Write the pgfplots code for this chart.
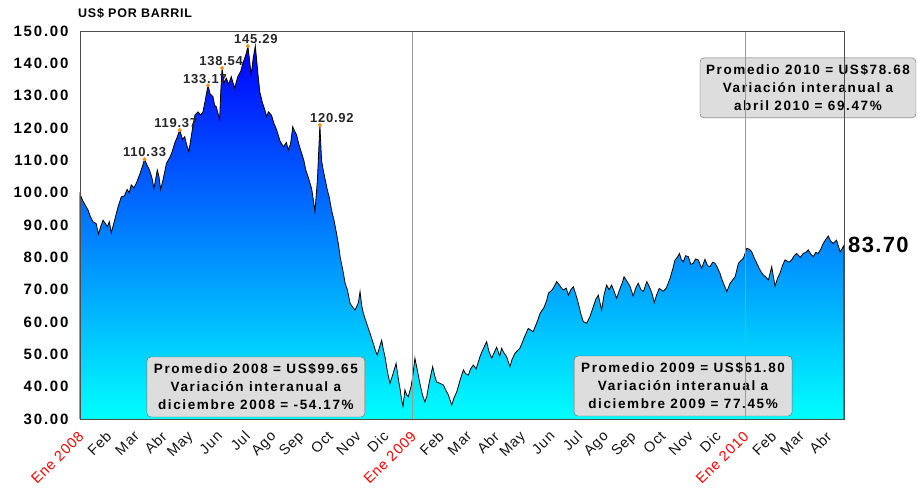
\documentclass[border=0pt]{standalone}
\usepackage{pgfplots}
\pgfplotsset{compat=1.18}
\usepackage{pgfplotstable}
\usepackage{graphicx}
\usepackage{fontspec}
\setmainfont{Liberation Sans}
\newfontfamily\widefont{Liberation Sans}[LetterSpace=6]
\newfontfamily\widerfont{Liberation Sans}[LetterSpace=12]

\definecolor{boxgray}{RGB}{221,221,221}
\definecolor{peak}{RGB}{255,140,20}
\definecolor{topblue}{RGB}{0,0,255}
\definecolor{botcyan}{RGB}{0,255,255}
\definecolor{mes}{RGB}{20,20,20}
\newcommand{\mes}[1]{\rotatebox{45}{\textcolor{mes}{#1}}}
\newcommand{\ene}[1]{\rotatebox{45}{\textcolor{red}{#1}}}

% precio diario aproximado, x en meses desde ene 2008
\pgfplotstableread{
m v
0.00 30
0.00 99.6
0.10 97.5
0.20 96.0
0.29 94.6
0.38 92.5
0.47 91.0
0.58 90.5
0.67 87.2
0.75 89.5
0.83 91.5
0.99 89.5
1.06 91.0
1.13 87.6
1.25 91.5
1.37 95.5
1.49 98.7
1.60 99.0
1.70 101.0
1.78 100.0
1.85 102.4
1.95 101.5
2.03 102.9
2.15 105.5
2.25 108.0
2.33 110.33
2.42 108.5
2.51 107.0
2.60 104.5
2.67 101.3
2.79 107.0
2.85 105.0
2.91 101.0
3.00 104.0
3.12 109.1
3.25 111.0
3.32 112.5
3.42 115.3
3.50 117.0
3.60 119.37
3.70 116.5
3.78 117.3
3.86 114.5
3.93 112.7
4.00 116.5
4.08 120.9
4.15 124.0
4.26 125.0
4.35 124.0
4.44 125.0
4.52 128.5
4.62 133.17
4.70 130.5
4.80 129.7
4.86 127.0
4.92 126.6
5.04 122.5
5.08 131.0
5.13 138.54
5.20 134.0
5.28 135.4
5.37 133.5
5.46 135.9
5.58 132.3
5.70 136.0
5.80 137.5
5.88 140.0
6.00 143.0
6.06 145.29
6.12 141.0
6.18 136.4
6.25 141.5
6.33 145.4
6.42 137.0
6.49 131.2
6.58 128.0
6.67 125.6
6.74 123.5
6.80 125.0
6.91 124.0
7.00 121.5
7.10 119.4
7.22 116.0
7.34 114.2
7.45 115.5
7.52 113.2
7.60 115.0
7.68 120.4
7.75 119.0
7.82 117.8
7.90 115.0
8.00 112.2
8.08 110.0
8.15 107.0
8.25 104.5
8.36 101.3
8.42 98.0
8.48 94.1
8.57 103.9
8.66 120.92
8.72 110.0
8.78 107.0
8.85 104.0
8.93 100.8
9.00 98.5
9.08 94.6
9.17 91.5
9.26 87.4
9.33 84.0
9.39 80.2
9.50 75.5
9.57 72.0
9.65 70.0
9.75 65.8
9.85 64.5
9.93 63.7
10.05 66.0
10.11 69.4
10.17 65.0
10.23 62.7
10.35 59.5
10.47 56.5
10.60 53.0
10.67 51.0
10.73 49.8
10.89 54.4
10.95 51.5
11.01 49.3
11.10 44.5
11.19 41.0
11.30 44.0
11.41 47.2
11.50 42.0
11.56 39.0
11.61 35.9
11.66 33.9
11.73 39.0
11.79 37.5
11.85 36.9
11.95 40.0
12.01 43.1
12.09 48.8
12.18 45.0
12.27 41.0
12.36 37.5
12.45 35.3
12.52 37.0
12.60 41.0
12.73 46.2
12.80 43.5
12.87 41.5
13.00 41.0
13.12 40.5
13.20 39.0
13.30 37.4
13.42 34.3
13.50 36.5
13.60 38.4
13.72 42.0
13.84 45.2
13.92 44.0
14.02 43.6
14.10 45.5
14.20 46.7
14.30 45.5
14.44 49.3
14.52 51.0
14.60 52.5
14.68 53.9
14.76 51.0
14.86 48.8
14.95 50.5
15.04 52.2
15.15 49.5
15.22 51.9
15.30 50.5
15.40 49.3
15.52 46.2
15.60 48.5
15.70 50.3
15.88 51.9
15.96 53.5
16.05 55.5
16.18 58.0
16.36 57.0
16.50 60.0
16.61 62.7
16.75 64.5
16.84 66.5
16.91 68.9
17.05 70.0
17.12 71.0
17.21 72.5
17.30 71.5
17.38 70.5
17.45 69.9
17.55 70.5
17.63 68.3
17.72 70.0
17.81 70.9
17.90 68.5
17.99 65.8
18.08 62.5
18.17 60.1
18.29 59.6
18.40 61.5
18.53 64.7
18.62 67.0
18.71 68.3
18.77 66.0
18.83 63.7
18.92 68.5
19.01 71.4
19.10 70.0
19.19 71.4
19.28 69.5
19.37 67.3
19.50 70.5
19.57 72.0
19.64 74.0
19.75 72.5
19.86 70.9
19.97 68.0
20.06 70.5
20.15 72.0
20.25 70.0
20.34 69.4
20.46 72.5
20.58 70.4
20.66 68.5
20.73 66.0
20.82 68.5
20.91 70.4
21.05 69.5
21.16 70.4
21.30 73.5
21.40 76.5
21.48 79.2
21.56 80.0
21.64 81.2
21.70 79.5
21.78 78.6
21.86 80.5
21.96 80.2
22.05 77.8
22.14 78.2
22.22 79.5
22.32 79.2
22.44 76.6
22.56 79.4
22.65 77.5
22.74 77.1
22.84 78.5
22.92 78.2
23.00 77.0
23.10 75.1
23.18 73.0
23.25 71.5
23.35 69.4
23.47 72.0
23.56 73.0
23.65 74.0
23.77 78.2
23.86 79.0
23.95 79.7
24.07 82.8
24.16 82.5
24.25 81.7
24.33 80.0
24.43 78.2
24.55 76.0
24.67 74.5
24.75 74.0
24.85 73.0
24.97 77.1
25.09 71.1
25.18 73.5
25.27 75.1
25.36 77.5
25.45 79.2
25.60 78.5
25.69 79.2
25.78 80.5
25.87 81.2
26.00 80.0
26.11 81.2
26.20 81.5
26.29 82.3
26.38 81.0
26.47 80.2
26.56 81.5
26.65 81.2
26.74 82.5
26.83 84.3
26.92 85.5
27.01 86.6
27.10 85.0
27.19 84.3
27.31 85.3
27.44 81.7
27.50 82.5
27.58 83.70
27.58 30
}\oil

% maximos marcados
\pgfplotstableread{
m v dx
2.33 110.33 0
3.60 119.37 -4
4.62 133.17 -3
5.13 138.54 -1
6.06 145.29 8
8.66 120.92 12
}\peaks

\begin{document}
\begin{tikzpicture}
\begin{axis}[
    scale only axis,
    width=764pt, height=388pt,
    xmin=0, xmax=27.58,
    ymin=30, ymax=150,
    clip=false,
    axis on top,
    axis line style={black!70},
    tick style={draw=none},
    ytick={30,40,...,150},
    yticklabel style={
        font=\widerfont\bfseries\fontsize{15}{16}\selectfont,
        /pgf/number format/fixed,
        /pgf/number format/fixed zerofill,
        /pgf/number format/precision=2,
        /pgf/number format/assume math mode=true,
        xshift=-8pt,
    },
    xtick={0,...,27},
    xticklabels={\ene{Ene 2008},\mes{Feb},\mes{Mar},\mes{Abr},\mes{May},\mes{Jun},
        \mes{Jul},\mes{Ago},\mes{Sep},\mes{Oct},\mes{Nov},\mes{Dic},
        \ene{Ene 2009},\mes{Feb},\mes{Mar},\mes{Abr},\mes{May},\mes{Jun},
        \mes{Jul},\mes{Ago},\mes{Sep},\mes{Oct},\mes{Nov},\mes{Dic},
        \ene{Ene 2010},\mes{Feb},\mes{Mar},\mes{Abr}},
    x tick label style={
        font=\widefont\fontsize{14.5}{16}\selectfont,
        anchor=north east, inner sep=0pt,
        yshift=-11pt, xshift=5pt,
    },
]

% area con degradado
\addplot[draw=black, line width=0.8pt, top color=topblue, bottom color=botcyan]
    table[x=m, y=v] {\oil};

% cajas de texto
\node[draw=black!60, fill=boxgray, rounded corners=4pt, align=center,
      minimum width=218pt, minimum height=60pt, inner sep=2pt,
      font=\widerfont\bfseries\fontsize{13.5}{18}\selectfont]
    at (axis cs:6.35,39.9)
    {Promedio 2008 = US\$99.65\\Variación interanual a\\diciembre 2008 = -54.17\%};
\node[draw=black!60, fill=boxgray, rounded corners=4pt, align=center,
      minimum width=218pt, minimum height=60pt, inner sep=2pt,
      font=\widerfont\bfseries\fontsize{13.5}{18}\selectfont]
    at (axis cs:21.77,40.2)
    {Promedio 2009 = US\$61.80\\Variación interanual a\\diciembre 2009 = 77.45\%};
\node[draw=black!60, fill=boxgray, rounded corners=4pt, align=center,
      minimum width=216pt, minimum height=60pt, inner sep=2pt,
      font=\widerfont\bfseries\fontsize{13.5}{18}\selectfont]
    at (axis cs:26.28,132.4)
    {Promedio 2010 = US\$78.68\\Variación interanual a\\abril 2010 = 69.47\%};

% separadores de año
\draw[gray!80] (axis cs:12,30) -- (axis cs:12,150);
\draw[gray!80] (axis cs:24,30) -- (axis cs:24,150);

% maximos
\addplot[only marks, mark=*, mark size=1.8pt, color=peak,
    nodes near coords, point meta=y,
    visualization depends on={\thisrow{dx} \as \dx},
    every node near coord/.append style={
        text=black!85, xshift=\dx pt, inner sep=2pt,
        font=\widefont\bfseries\fontsize{13}{15}\selectfont,
        /pgf/number format/fixed,
        /pgf/number format/fixed zerofill,
        /pgf/number format/precision=2,
        /pgf/number format/assume math mode=true},
    ] table[x=m, y=v] {\peaks};

% ultimo valor
\addplot[draw=none, nodes near coords, point meta=explicit symbolic,
    every node near coord/.append style={anchor=west, text=black, inner sep=4pt,
        font=\widefont\bfseries\fontsize{22}{24}\selectfont}]
    coordinates {(27.58,83.70) [83.70]};

\node[anchor=base west, inner sep=0pt, font=\widefont\bfseries\fontsize{12.5}{14}\selectfont]
    at (rel axis cs:0,1) [yshift=13pt, xshift=-2pt] {US\$ POR BARRIL};
\end{axis}
\pgfresetboundingbox
\path[use as bounding box] (current axis.south west) ++(-80pt,-70pt) rectangle ++(918pt,489pt);
\end{tikzpicture}
\end{document}
